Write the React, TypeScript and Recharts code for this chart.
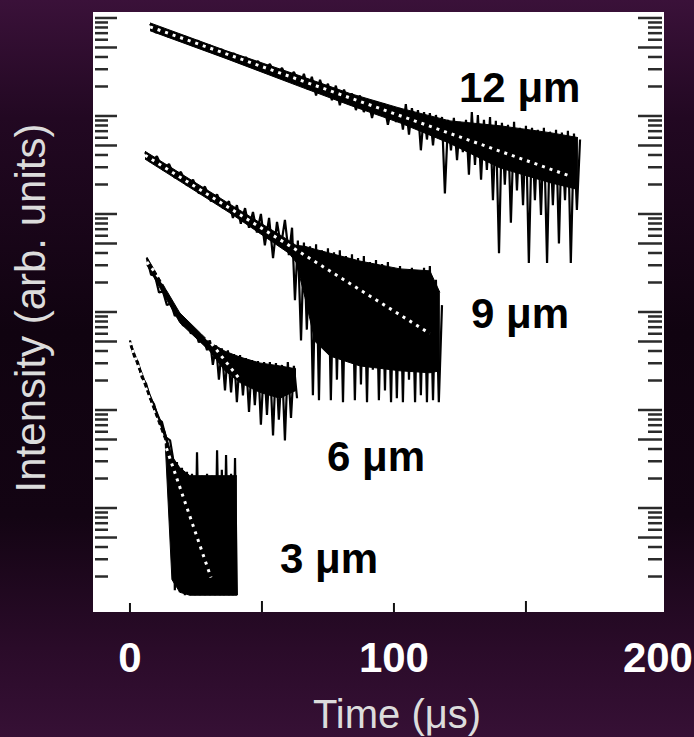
import { ComposedChart, Area, Line, XAxis, YAxis } from "recharts";

// traces: [time (µs), log10 intensity]
const trace12: [number, number][] = [
  [7.6, 5.94], [9.8, 5.85], [12.1, 5.9], [14.4, 5.81], [16.7, 5.85], [18.9, 5.77], [21.2, 5.81], [23.5, 5.72],
  [25.8, 5.77], [28.0, 5.68], [30.3, 5.72], [32.6, 5.63], [34.8, 5.68], [37.1, 5.59], [39.4, 5.64], [41.7, 5.54],
  [43.9, 5.6], [46.2, 5.5], [48.5, 5.56], [50.8, 5.46], [53.0, 5.53], [55.3, 5.41], [57.6, 5.49], [59.8, 5.36],
  [62.1, 5.45], [64.4, 5.31], [65.9, 5.43], [67.4, 5.27], [68.9, 5.4], [70.5, 5.21], [72.0, 5.37], [73.5, 5.24],
  [75.0, 5.33], [76.5, 5.16], [78.0, 5.31], [79.5, 5.11], [81.1, 5.27], [82.6, 5.13], [84.1, 5.23], [85.6, 5.06],
  [87.1, 5.21], [88.6, 5.04], [90.2, 5.17], [91.7, 4.98], [93.2, 5.15], [94.7, 5.01], [96.2, 5.13], [97.7, 4.91],
  [99.2, 5.1], [100.8, 4.94], [102.3, 5.08], [103.4, 4.86], [104.5, 5.12], [105.7, 4.81], [106.8, 5.08], [108.0, 4.88],
  [109.1, 5.06], [110.2, 4.65], [111.4, 5.04], [112.5, 4.76], [113.6, 5.03], [114.8, 4.7], [115.9, 5.01], [117.0, 4.78],
  [118.2, 4.99], [119.3, 4.21], [120.5, 4.96], [121.6, 4.65], [122.7, 4.98], [123.9, 4.55], [125.0, 4.94], [126.1, 4.63],
  [127.3, 4.96], [128.4, 4.4], [129.5, 5.04], [130.7, 4.5], [131.8, 5.01], [133.0, 4.35], [134.1, 4.96], [135.2, 4.45],
  [136.4, 4.99], [137.5, 4.14], [138.6, 4.95], [139.8, 3.6], [140.9, 4.93], [142.0, 4.3], [143.2, 4.91], [144.3, 3.91],
  [145.5, 4.94], [146.6, 4.24], [147.7, 4.88], [148.9, 4.09], [150.0, 4.9], [151.1, 3.5], [152.3, 4.88], [153.4, 4.14],
  [154.5, 4.86], [155.7, 3.99], [156.8, 4.88], [158.0, 3.5], [159.1, 4.84], [160.2, 4.09], [161.4, 4.86], [162.5, 3.7],
  [163.6, 4.83], [164.8, 4.14], [165.9, 4.85], [167.0, 3.5], [168.2, 4.82], [169.3, 4.04], [170.5, 4.76],
];

const trace9: [number, number][] = [
  [5.7, 4.63], [7.9, 4.53], [10.2, 4.59], [12.5, 4.45], [14.8, 4.51], [17.0, 4.37], [19.3, 4.43], [21.6, 4.29],
  [23.9, 4.35], [26.1, 4.21], [28.4, 4.28], [30.7, 4.13], [33.0, 4.2], [35.2, 4.06], [37.5, 4.13], [39.0, 3.96],
  [40.5, 4.09], [42.0, 3.9], [43.6, 4.06], [45.1, 3.86], [46.6, 4.02], [48.1, 3.81], [49.6, 4.0], [51.1, 3.68],
  [52.7, 3.96], [54.2, 3.55], [55.7, 3.92], [57.2, 3.67], [58.7, 3.94], [60.2, 3.58], [61.4, 3.86], [62.5, 3.12],
  [63.6, 3.73], [64.8, 2.71], [65.9, 3.71], [67.0, 2.82], [68.2, 3.67], [69.3, 2.15], [70.5, 3.69], [71.6, 2.1],
  [72.7, 3.63], [73.9, 2.61], [75.0, 3.65], [76.1, 2.1], [77.3, 3.61], [78.4, 2.31], [79.5, 3.63], [80.7, 2.08],
  [81.8, 3.57], [83.0, 2.51], [84.1, 3.59], [85.2, 2.1], [86.4, 3.55], [87.5, 2.26], [88.6, 3.57], [89.8, 2.08],
  [90.9, 3.51], [92.0, 2.41], [93.2, 3.53], [94.3, 2.1], [95.5, 3.49], [96.6, 2.2], [97.7, 3.51], [98.9, 2.08],
  [100.0, 3.45], [101.1, 2.12], [102.3, 3.47], [103.4, 2.08], [104.5, 3.43], [105.7, 2.31], [106.8, 3.45], [108.0, 2.08],
  [109.1, 3.41], [110.2, 2.15], [111.4, 3.45], [112.5, 2.08], [113.6, 3.47], [114.8, 2.1], [115.9, 3.33], [117.0, 2.08],
  [118.2, 3.07],
];

const trace6: [number, number][] = [
  [6.4, 3.55], [8.0, 3.38], [9.5, 3.37], [11.0, 3.2], [12.5, 3.21], [14.0, 3.07], [15.5, 3.09], [17.0, 2.96],
  [18.6, 2.99], [20.1, 2.86], [21.6, 2.9], [23.1, 2.78], [24.6, 2.82], [26.1, 2.69], [27.7, 2.74], [29.2, 2.61],
  [30.3, 2.71], [31.4, 2.46], [32.6, 2.66], [33.7, 2.31], [34.8, 2.63], [36.0, 2.2], [37.1, 2.61], [38.3, 2.18],
  [39.4, 2.57], [40.5, 2.08], [41.7, 2.56], [42.8, 2.15], [43.9, 2.53], [45.1, 1.98], [46.2, 2.51], [47.3, 2.05],
  [48.5, 2.5], [49.6, 1.85], [50.8, 2.49], [51.9, 1.95], [53.0, 2.49], [54.2, 1.74], [55.3, 2.48], [56.4, 1.9],
  [57.6, 2.46], [58.7, 1.69], [59.8, 2.49], [61.0, 1.92], [62.1, 2.45], [63.3, 2.12],
];

const trace3: [number, number][] = [
  [0.0, 2.71], [1.5, 2.55], [3.0, 2.49], [4.5, 2.33], [6.1, 2.27], [7.6, 2.12], [9.1, 2.06], [10.6, 1.91],
  [12.1, 1.88], [13.6, 1.72], [15.2, 1.69], [16.3, 1.51], [17.0, 0.16], [17.8, 1.47], [18.9, 0.14], [19.7, 1.41],
  [20.8, 0.11], [21.6, 1.37], [22.7, 0.11], [23.5, 1.35], [24.6, 0.11], [25.4, 1.57], [26.5, 0.11], [27.3, 1.33],
  [28.4, 0.11], [29.2, 1.35], [30.3, 0.11], [31.1, 1.33], [32.2, 0.11], [33.0, 1.59], [34.1, 0.11], [34.8, 1.39],
  [35.6, 0.11], [36.4, 1.54], [37.5, 0.11], [38.3, 1.35], [39.0, 0.11], [39.8, 1.51], [40.5, 0.11],
];

// solid core of each noisy trace: [time (µs), log10 low, log10 high]
const core12: [number, number, number][] = [
  [7.6, 5.87, 5.95], [36.0, 5.59, 5.67], [64.4, 5.3, 5.41], [83.3, 5.11, 5.23], [102.3, 4.93, 5.08],
  [121.2, 4.72, 4.95], [140.2, 4.47, 4.9], [159.1, 4.32, 4.83], [169.7, 4.25, 4.78],
];
const core9: [number, number, number][] = [
  [5.7, 4.56, 4.64], [37.9, 4.01, 4.1], [60.2, 3.6, 3.73], [62.9, 3.51, 3.68], [66.3, 3.15, 3.67],
  [70.1, 2.7, 3.64], [75.8, 2.55, 3.6], [87.1, 2.45, 3.52], [102.3, 2.4, 3.44], [113.6, 2.38, 3.42], [117.4, 2.4, 3.2],
];
const core6: [number, number, number][] = [
  [6.4, 3.48, 3.56], [18.9, 2.89, 2.99], [30.3, 2.6, 2.69], [36.0, 2.4, 2.6], [41.7, 2.28, 2.54],
  [49.2, 2.18, 2.48], [56.8, 2.12, 2.45], [62.9, 2.2, 2.42],
];
const core3: [number, number, number][] = [
  [0.0, 2.66, 2.71], [7.6, 2.1, 2.16], [13.3, 1.69, 1.78], [15.9, 0.27, 1.53], [18.9, 0.14, 1.41],
  [22.7, 0.11, 1.33], [40.5, 0.11, 1.33],
];

// exponential fits (straight on the log axis): start and end points
const fit12: [number, number][] = [[7.6, 5.91], [167.4, 4.38]];
const fit9: [number, number][] = [[5.7, 4.6], [113.6, 2.78]];
const fit6: [number, number][] = [[6.4, 3.51], [42.0, 2.3]];
const fit3: [number, number][] = [[0.0, 2.69], [30.7, 0.29]];

const curveNames = ["12 μm", "9 μm", "6 μm", "3 μm"];
const xTicks = [0, 50, 100, 150, 200];
const xLabeled = [0, 100, 200];
const decades = [0, 1, 2, 3, 4, 5, 6];

const W = 694;
const H = 737;
const PLOT = { left: 93, right: 664, top: 12, bottom: 612 };
const FONT = "'Liberation Sans', Arial, Helvetica, sans-serif";

const yDomain = [10 ** -0.061, 10 ** 6.061];
const yTicks: number[] = [];
decades.forEach((d) => {
  for (let k = 1; k <= 9; k++) {
    const v = Number(`${k}e${d}`);
    if (v > 1 && v <= yDomain[1]) yTicks.push(v);
  }
});

const toRows = (pts: [number, number][]) => pts.map(([t, lg]) => ({ t, i: 10 ** lg }));
const toBand = (pts: [number, number, number][]) =>
  pts.map(([t, lo, hi]) => ({ t, band: [10 ** lo, 10 ** hi] }));

const isLong = (v: number) => {
  const m = Math.round(v / 10 ** Math.floor(Math.log10(v) + 1e-9));
  return m === 1 || m === 5;
};

const leftTick = (props: any) => {
  const { y, payload } = props;
  const len = isLong(payload.value) ? 22 : 13;
  return (
    <line x1={PLOT.left + 2} x2={PLOT.left + 2 + len} y1={y} y2={y} stroke="#2b2b2b" strokeWidth={2.5} />
  );
};

const rightTick = (props: any) => {
  const { y, payload } = props;
  const len = isLong(payload.value) ? 24 : 14;
  return (
    <line x1={PLOT.right - 2 - len} x2={PLOT.right - 2} y1={y} y2={y} stroke="#2b2b2b" strokeWidth={2.5} />
  );
};

const xTick = (props: any) => {
  const { x, payload } = props;
  const v = payload.value;
  const len = v === 50 || v === 150 ? 11 : 9;
  return (
    <g>
      {v < 200 && <line x1={x} x2={x} y1={PLOT.bottom} y2={PLOT.bottom - len} stroke="#111" strokeWidth={2} />}
      {xLabeled.includes(v) && (
        <text x={x} y={672} textAnchor="middle" fill="#fff" fontSize={42} fontWeight="bold" fontFamily={FONT}>
          {v}
        </text>
      )}
    </g>
  );
};

export default function App() {
  const traceStyle = { stroke: "#000", strokeWidth: 2.2, strokeLinejoin: "bevel" as const };
  const coreStyle = { fill: "#000", fillOpacity: 1, stroke: "#000", strokeWidth: 1 };
  const fitStyle = { stroke: "#fff", strokeWidth: 3, strokeDasharray: "3 5" };
  const traces = [trace12, trace9, trace6, trace3];
  const cores = [core12, core9, core6, core3];
  const fits = [fit12, fit9, fit6, fit3];
  return (
    <div
      style={{
        position: "relative",
        width: W,
        height: H,
        overflow: "hidden",
        background:
          "linear-gradient(180deg, #3a1139 0%, #220822 16%, #100310 45%, #130413 70%, #2a0b29 88%, #361035 100%)",
      }}
    >
      <style>{"body{margin:0}"}</style>
      <div
        style={{
          position: "absolute",
          left: PLOT.left,
          top: PLOT.top,
          width: PLOT.right - PLOT.left,
          height: PLOT.bottom - PLOT.top,
          background: "#fff",
        }}
      />
      <div style={{ position: "absolute", left: 0, top: 0 }}>
        <ComposedChart width={W} height={H} margin={{ top: PLOT.top, right: 0, bottom: 0, left: 0 }}>
          <XAxis
            type="number"
            dataKey="t"
            domain={[-14, 202.3]}
            allowDataOverflow
            ticks={xTicks}
            interval={0}
            height={H - PLOT.bottom}
            axisLine={false}
            tickLine={false}
            tick={xTick}
          />
          <YAxis
            yAxisId="l"
            type="number"
            scale="log"
            domain={yDomain}
            allowDataOverflow
            ticks={yTicks}
            interval={0}
            width={PLOT.left}
            axisLine={false}
            tickLine={false}
            tick={leftTick}
          />
          <YAxis
            yAxisId="r"
            orientation="right"
            type="number"
            scale="log"
            domain={yDomain}
            allowDataOverflow
            ticks={yTicks}
            interval={0}
            width={W - PLOT.right}
            axisLine={false}
            tickLine={false}
            tick={rightTick}
          />
          {cores.map((c, k) => (
            <Area
              key={`core${k}`}
              yAxisId="l"
              type="linear"
              data={toBand(c)}
              dataKey="band"
              dot={false}
              activeDot={false}
              isAnimationActive={false}
              {...coreStyle}
            />
          ))}
          {traces.map((tr, k) => (
            <Line
              key={`trace${k}`}
              yAxisId="l"
              data={toRows(tr)}
              dataKey="i"
              dot={false}
              activeDot={false}
              isAnimationActive={false}
              {...traceStyle}
            />
          ))}
          {fits.map((f, k) => (
            <Line
              key={`fit${k}`}
              yAxisId="r"
              data={toRows(f)}
              dataKey="i"
              dot={false}
              activeDot={false}
              isAnimationActive={false}
              {...fitStyle}
            />
          ))}
        </ComposedChart>
      </div>
      <svg width={W} height={H} style={{ position: "absolute", left: 0, top: 0, pointerEvents: "none" }}>
        <g fontFamily={FONT} fontWeight="bold" fontSize={42} fill="#000">
          <text x={459} y={102}>{curveNames[0]}</text>
          <text x={471} y={328}>{curveNames[1]}</text>
          <text x={327} y={471}>{curveNames[2]}</text>
          <text x={280} y={573}>{curveNames[3]}</text>
        </g>
        <text x={397} y={728} textAnchor="middle" fill="#dcdcdc" fontSize={40} fontFamily={FONT}>
          Time (μs)
        </text>
        <text
          x={45}
          y={308}
          transform="rotate(-90 45 308)"
          textAnchor="middle"
          fill="#dcdcdc"
          fontSize={42}
          fontFamily={FONT}
        >
          Intensity (arb. units)
        </text>
      </svg>
    </div>
  );
}
